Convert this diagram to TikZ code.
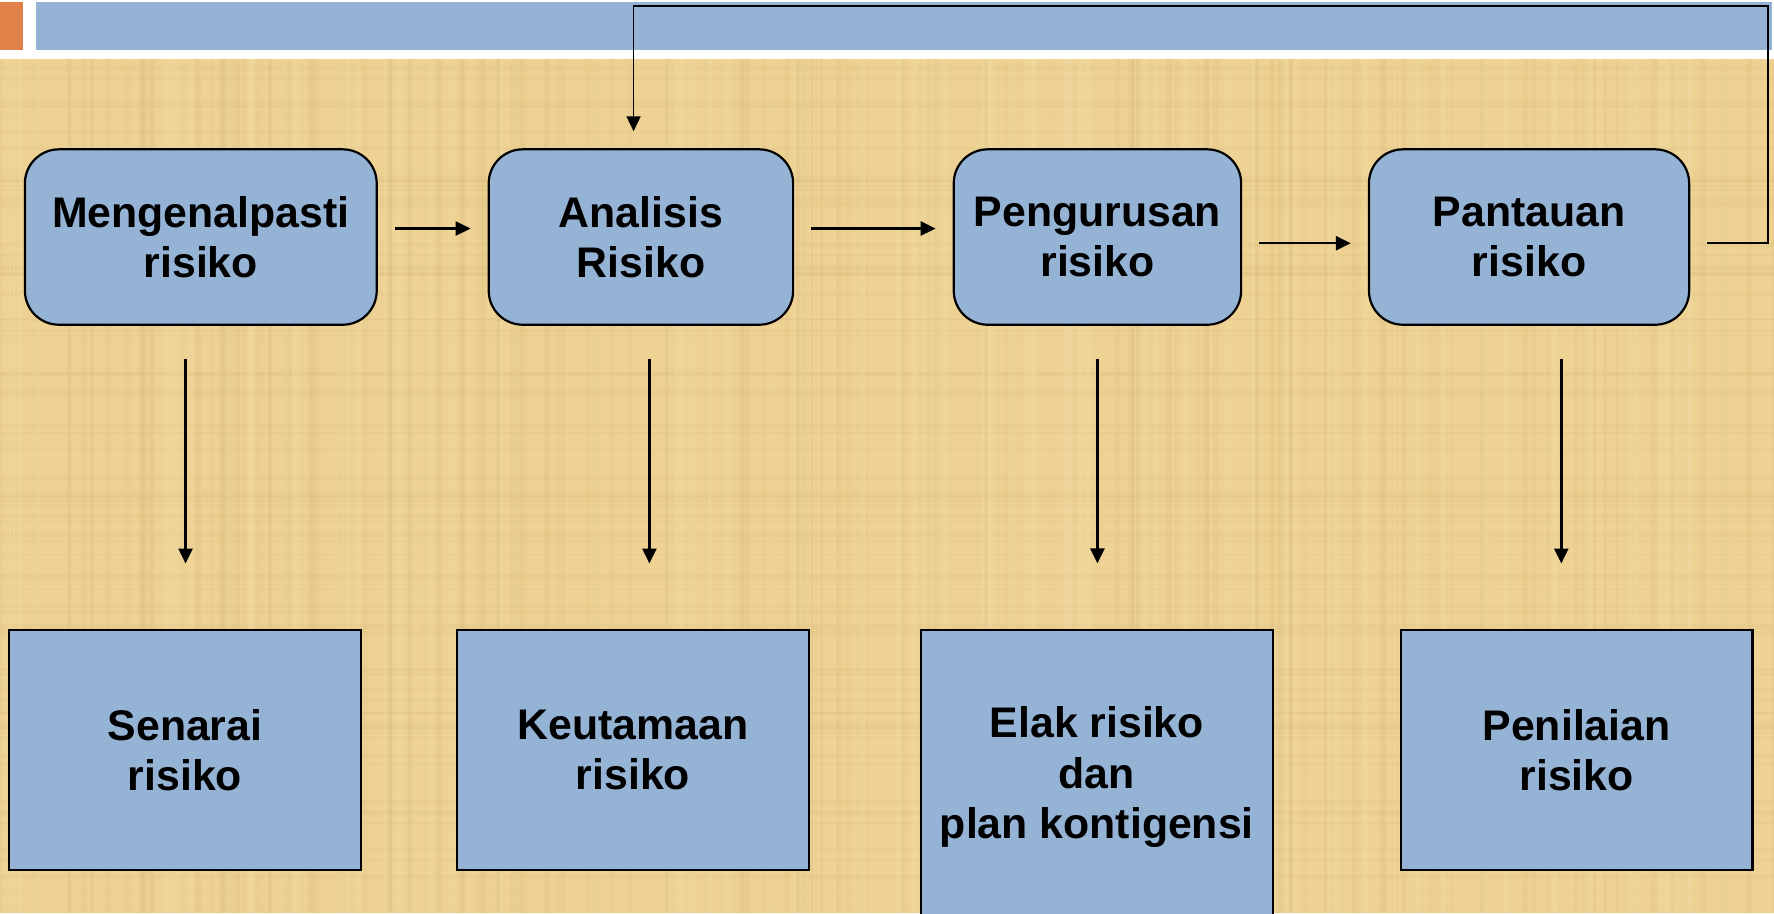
\documentclass[tikz,border=0pt]{standalone}
\usepackage{fontspec}
\setmainfont{Liberation Sans}
\usetikzlibrary{arrows.meta,calc}
\definecolor{boxblue}{RGB}{149,179,213}
\definecolor{paper}{RGB}{237,210,148}
\definecolor{paperdark}{RGB}{200,165,100}
\definecolor{paperlight}{RGB}{250,232,185}
\definecolor{accent}{RGB}{224,129,73}
\begin{document}
\begin{tikzpicture}[x=0.5657pt,y=-0.5657pt,
  lbl/.style={font=\bfseries\fontsize{21.4}{25.2}\selectfont, align=center, text=black},
  stage/.style={lbl, draw=black, line width=1.1pt, fill=boxblue, rounded corners=17pt, inner sep=0pt, minimum height=87.7pt},
  result/.style={lbl, draw=black, line width=1.1pt, fill=boxblue, inner sep=0pt, minimum width=175.9pt},
  flow/.style={line width=1.2pt, -{Triangle[length=7.5pt,width=7pt]}},
  gap/.style={shorten <=8.5pt, shorten >=8.5pt},
  drop/.style={shorten <=16.4pt, shorten >=32.8pt},
]
\useasboundingbox (0,0) rectangle (1568,807);

% page header and paper background
\fill[white] (0,0) rectangle (1568,807);
\fill[paper] (0,52) rectangle (1568,807);
\pgfmathsetseed{7}
\begin{scope}
  \clip (0,52) rectangle (1568,807);
  \foreach \i in {1,...,160}{
    \pgfmathsetmacro{\xx}{rnd*1568}
    \pgfmathsetmacro{\ww}{1+rnd*5}
    \pgfmathsetmacro{\oo}{0.04+rnd*0.08}
    \fill[paperdark, opacity=\oo] (\xx,52) rectangle ++(\ww,755);
  }
  \foreach \i in {1,...,90}{
    \pgfmathsetmacro{\yy}{52+rnd*755}
    \pgfmathsetmacro{\hh}{1+rnd*4}
    \pgfmathsetmacro{\oo}{0.04+rnd*0.07}
    \fill[paperdark, opacity=\oo] (0,\yy) rectangle ++(1568,\hh);
  }
  \foreach \i in {1,...,80}{
    \pgfmathsetmacro{\xx}{rnd*1568}
    \pgfmathsetmacro{\ww}{2+rnd*6}
    \pgfmathsetmacro{\oo}{0.08+rnd*0.12}
    \fill[paperlight, opacity=\oo] (\xx,52) rectangle ++(\ww,755);
  }
\end{scope}
\fill[accent] (0,2) rectangle (20,44);
\fill[boxblue] (32,2) rectangle (1566,44);

% process stages
\node[stage, minimum width=175.9pt] (m) at (177.5,209.5) {Mengenalpasti\\risiko};
\node[stage, minimum width=152.2pt] (a) at (566.5,209.5) {Analisis\\Risiko};
\node[stage, minimum width=143.7pt] (p) at (970,209.5) {Pengurusan\\risiko};
\node[stage, minimum width=160.1pt] (t) at (1351.5,209.5) {Pantauan\\risiko};

% outputs of each stage
\node[result, minimum height=119.9pt] (s) at (163.5,663) {Senarai\\risiko};
\node[result, minimum height=119.9pt] (k) at (559.5,663) {Keutamaan\\risiko};
\node[result, minimum height=147.1pt] (e) at (969.5,687) {Elak risiko\\dan\\plan kontigensi};
\node[result, minimum height=119.9pt] (n) at (1393.5,663) {Penilaian\\risiko};

% flow between stages
\draw[flow, gap] ($(m.east)+(0,-7.5)$) -- ($(a.west)+(0,-7.5)$);
\draw[flow, gap] ($(a.east)+(0,-7.5)$) -- ($(p.west)+(0,-7.5)$);
\draw[flow, gap] ($(p.east)+(0,5.5)$) -- ($(t.west)+(0,5.5)$);

% stage to output
\coordinate (m1) at ($(m.south)+(-13.5,0)$);
\coordinate (a1) at ($(a.south)+(7.5,0)$);
\coordinate (p1) at ($(p.south)+(0,0)$);
\coordinate (t1) at ($(t.south)+(28.5,0)$);
\draw[flow, drop] (m1) -- (m1 |- s.north);
\draw[flow, drop] (a1) -- (a1 |- k.north);
\draw[flow, drop] (p1) -- (p1 |- e.north);
\draw[flow, drop] (t1) -- (t1 |- n.north);

% feedback from monitoring back to analysis
\coordinate (fbs) at ($(t.east)+(15,5.5)$);
\coordinate (fbc) at (1563,5);
\coordinate (fbe) at ($(a.north)+(-6.5,-15)$);
\draw[flow, line width=0.9pt] (fbs) -| (fbc) -| (fbe);
\end{tikzpicture}
\end{document}
